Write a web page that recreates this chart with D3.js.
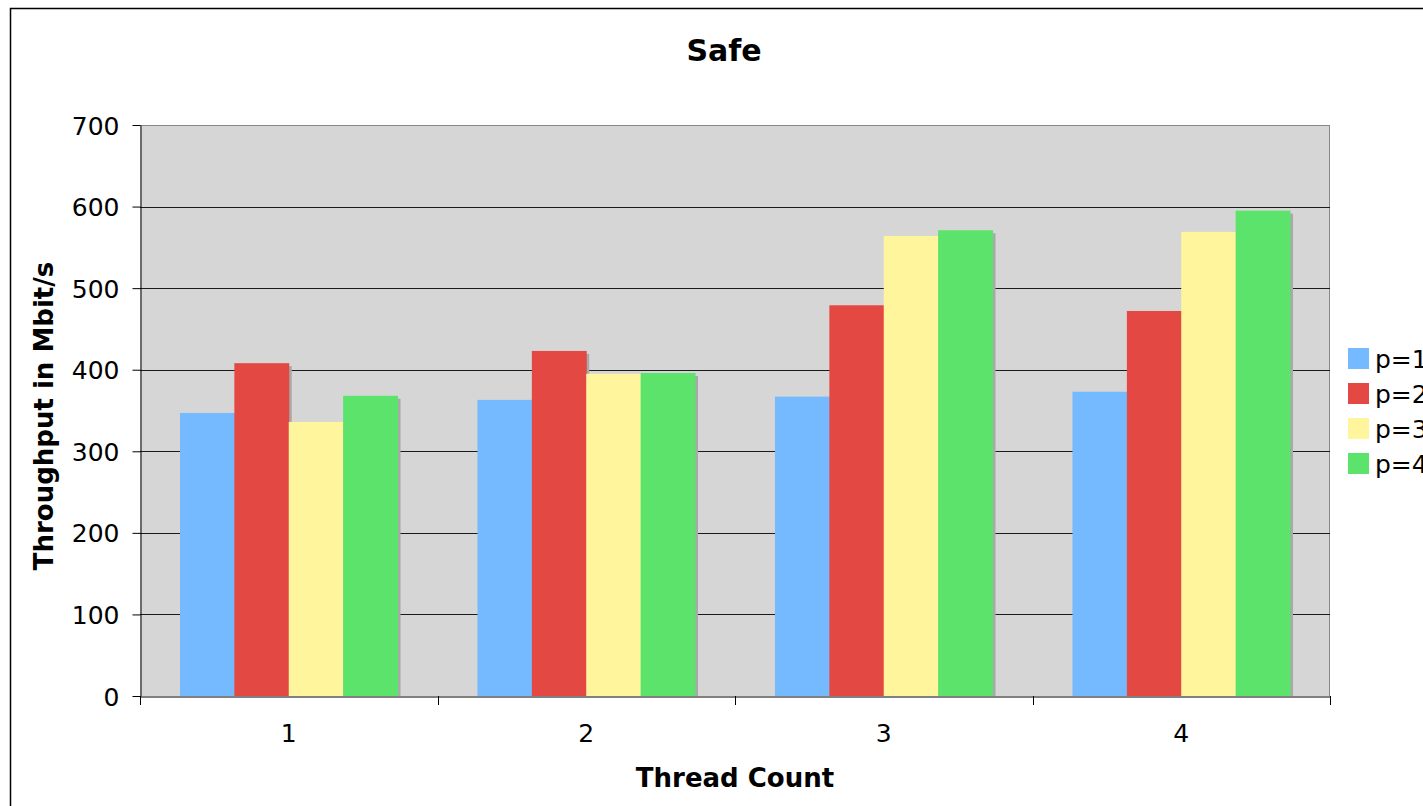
<!DOCTYPE html>
<html><head><meta charset="utf-8">
<script src="https://cdn.jsdelivr.net/npm/d3@7"></script>
<style>body{margin:0;background:#fff;}svg{display:block;font-family:"DejaVu Sans",Verdana,sans-serif;}</style>
</head><body>
<svg id="c" width="1423" height="806"></svg>
<script>
const categories = ["1","2","3","4"];
const seriesNames = ["p=1","p=2","p=3","p=4"];
const seriesColors = ["#75b9ff","#e34842","#fff59c","#5ce36c"];
const p1 = [347, 363, 367, 373];
const p2 = [408, 423, 479, 472];
const p3 = [336, 395, 564, 569];
const p4 = [368, 396, 571, 595];
const series = [p1, p2, p3, p4];
const yTicks = [0,100,200,300,400,500,600,700];

const svg = d3.select("#c");
const L = 140, R = 1330, T = 125, B = 696;

svg.append("rect").attr("x",10.5).attr("y",8.5).attr("width",1600).attr("height",1000)
  .attr("fill","#fff").attr("stroke","#000").attr("stroke-width",1.5);

const x = d3.scaleBand().domain(categories).range([L,R]).paddingInner(0).paddingOuter(0);
const xs = d3.scaleBand().domain(d3.range(series.length)).range([0,x.bandwidth()]).paddingInner(0).paddingOuter(0.735);
const y = d3.scaleLinear().domain([0,700]).range([B,T]);

svg.append("rect").attr("x",L).attr("y",T).attr("width",R-L).attr("height",B-T).attr("fill","#d6d6d6");
svg.append("line").attr("x1",L).attr("x2",R).attr("y1",T+0.5).attr("y2",T+0.5).attr("stroke","#888");
svg.append("line").attr("x1",R-0.5).attr("x2",R-0.5).attr("y1",T).attr("y2",B).attr("stroke","#888");

// gridlines
svg.append("g").selectAll("line").data(yTicks.filter(d=>d>0&&d<700)).join("line")
  .attr("x1",L).attr("x2",R).attr("y1",d=>Math.round(y(d))+0.5).attr("y2",d=>Math.round(y(d))+0.5)
  .attr("stroke","#1a1a1a").attr("stroke-width",1);

// bars
const rows = [];
categories.forEach((c,i)=>series.forEach((s,j)=>rows.push({c,j,v:s[i]})));
const g = svg.append("g");
g.selectAll("rect.sh").data(rows).join("rect").attr("class","sh")
  .attr("x",d=>x(d.c)+xs(d.j)+3).attr("y",d=>y(d.v)+3)
  .attr("width",xs.bandwidth()).attr("height",d=>B-y(d.v)-3).attr("fill","#a9a9a9");
g.selectAll("rect.b").data(rows).join("rect").attr("class","b")
  .attr("x",d=>x(d.c)+xs(d.j)).attr("y",d=>y(d.v))
  .attr("width",xs.bandwidth()+0.5).attr("height",d=>B-y(d.v)).attr("fill",d=>seriesColors[d.j]);

// y axis
const ya = svg.append("g").attr("transform",`translate(${L+0.5},0)`)
  .call(d3.axisLeft(y).tickValues(yTicks).tickSize(8).tickPadding(13).tickSizeOuter(0));
ya.select(".domain").attr("stroke","#000");
ya.selectAll(".tick line").attr("stroke","#000");
ya.selectAll("text").attr("font-size",25).attr("font-family","DejaVu Sans").attr("fill","#000").attr("dy","0.36em");

// x axis
const xa = svg.append("g").attr("transform",`translate(0,${B+0.5})`)
  .call(d3.axisBottom(x).tickSize(0).tickPadding(28).tickSizeOuter(0));
xa.select(".domain").attr("stroke","#000");
xa.selectAll("text").attr("font-size",25).attr("font-family","DejaVu Sans").attr("fill","#000");
const bounds = categories.map(c=>x(c)).concat([R]);
svg.append("g").selectAll("line").data(bounds).join("line")
  .attr("x1",d=>Math.round(d)+0.5).attr("x2",d=>Math.round(d)+0.5).attr("y1",B).attr("y2",B+9).attr("stroke","#000");

// titles
svg.append("text").attr("x",724).attr("y",61).attr("text-anchor","middle")
  .attr("font-size",30).attr("font-weight","bold").text("Safe");
svg.append("text").attr("x",735).attr("y",787).attr("text-anchor","middle")
  .attr("font-size",26).attr("font-weight","bold").text("Thread Count");
svg.append("text").attr("transform","translate(53,416) rotate(-90)").attr("text-anchor","middle")
  .attr("font-size",26).attr("font-weight","bold").text("Throughput in Mbit/s");

// legend
const lg = svg.append("g").selectAll("g").data(seriesNames).join("g")
  .attr("transform",(d,i)=>`translate(1348,${348+i*35})`);
lg.append("rect").attr("width",21).attr("height",21).attr("fill",(d,i)=>seriesColors[i]);
lg.append("text").attr("x",27).attr("y",20).attr("font-size",25).text(d=>d);
</script>
</body></html>
